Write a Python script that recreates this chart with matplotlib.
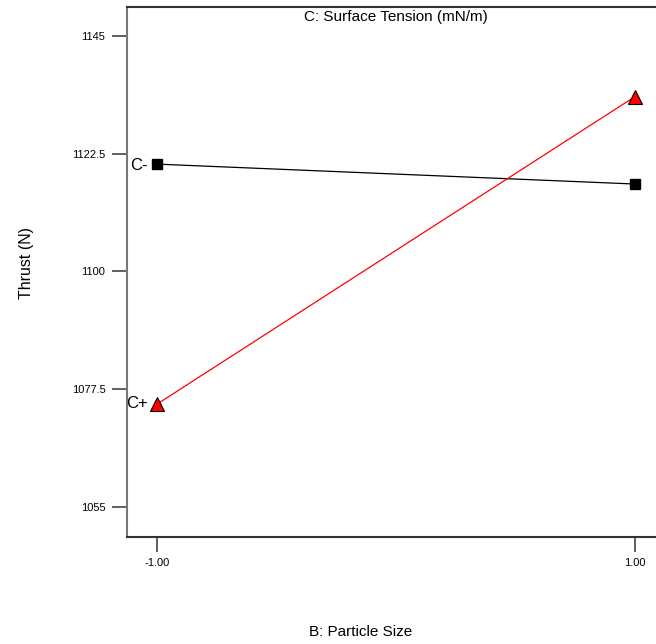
import matplotlib.pyplot as plt

plt.rcParams['font.family'] = ['Liberation Sans', 'DejaVu Sans']

# interaction of B (particle size) with C (surface tension)
particle_size = [-1.0, 1.0]
thrust_c_minus = [1120.5, 1116.7]
thrust_c_plus = [1074.7, 1133.4]
y_ticks = [1055, 1077.5, 1100, 1122.5, 1145]
y_tick_labels = ['1055', '1077.5', '1100', '1122.5', '1145']
x_ticks = [-1.0, 1.0]
x_tick_labels = ['-1.00', '1.00']

fig = plt.figure(figsize=(6.56, 6.44), dpi=100)
ax = fig.add_axes([126.7 / 656, 1 - 537 / 644, 1 - 126.7 / 656, (537 - 6.5) / 644])

ax.plot(particle_size, thrust_c_minus, color='black', lw=0.9,
        marker='s', ms=7, mfc='black', mec='black')
ax.plot(particle_size, thrust_c_plus, color='red', lw=0.9,
        marker='^', ms=10, mfc='red', mec='black', mew=0.8)

ax.text(-1.04, thrust_c_minus[0] - 0.2, 'C-', ha='right', va='center', fontsize=12)
ax.text(-1.04, thrust_c_plus[0] + 0.1, 'C+', ha='right', va='center', fontsize=12)

ax.set_xlim(-1.128, 1.088)
ax.set_ylim(1049.3, 1150.6)
ax.set_xticks(x_ticks)
ax.set_xticklabels(x_tick_labels)
ax.set_yticks(y_ticks)
ax.set_yticklabels(y_tick_labels)
ax.tick_params(axis='both', direction='out', length=10.8, width=1.2,
               color='#444444', labelsize=8, pad=4.5)

ax.spines['right'].set_visible(False)
ax.spines['left'].set_color('#777777')
ax.spines['top'].set_color('#333333')
ax.spines['bottom'].set_color('#333333')
for s in ['left', 'top', 'bottom']:
    ax.spines[s].set_linewidth(1.5)

fig.text(396 / 656, 1 - 17 / 644, 'C: Surface Tension (mN/m)',
         ha='center', va='center', fontsize=11)
fig.text(27 / 656, 1 - 263 / 644, 'Thrust (N)', rotation=90,
         ha='center', va='center', fontsize=11.5)
fig.text(361 / 656, 1 - 632 / 644, 'B: Particle Size',
         ha='center', va='center', fontsize=11)

fig.savefig('out.png', dpi=100)
